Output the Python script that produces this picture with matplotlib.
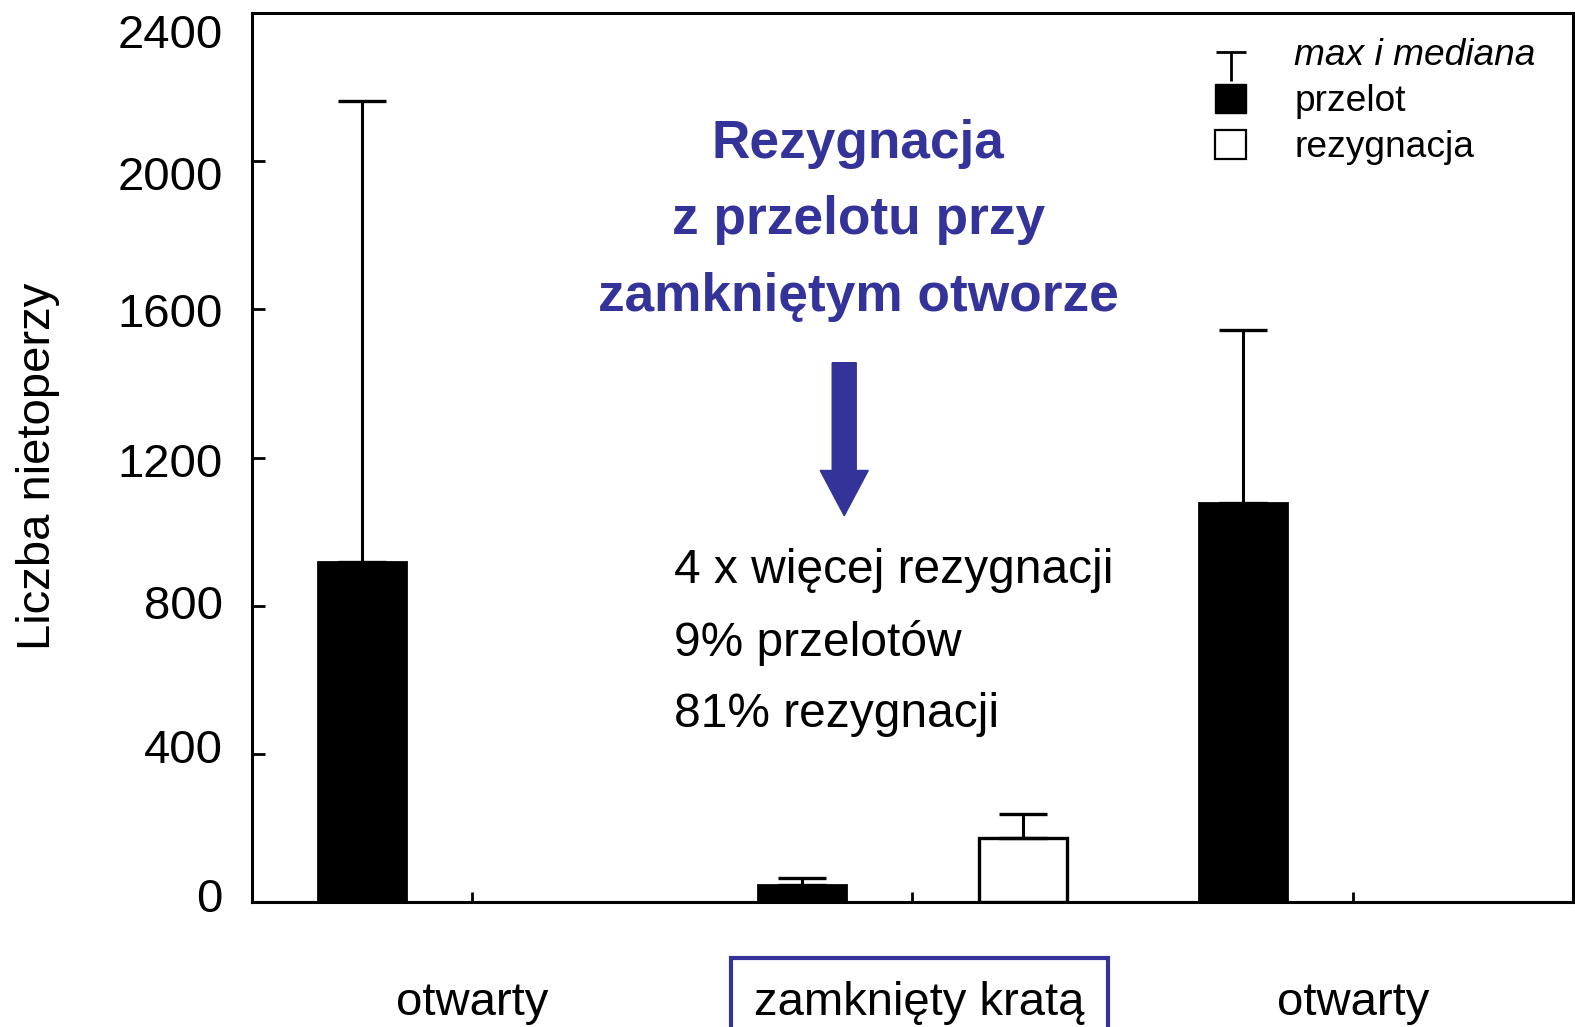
import matplotlib.pyplot as plt
import matplotlib.transforms as mtransforms
from matplotlib.patches import Patch
from matplotlib.lines import Line2D
from matplotlib.path import Path
import numpy as np

plt.rcParams['font.family'] = ['Liberation Sans', 'DejaVu Sans']

# dane (mediana i maksimum)
kategorie = ["otwarty", "zamknięty kratą", "otwarty"]
przelot_mediana = [919, 46, 1078]
przelot_max = [2162, 65, 1544]
rezygnacja_mediana = [0, 172, 0]
rezygnacja_max = [0, 237, 0]
y_ticks = [0, 400, 800, 1200, 1600, 2000, 2400]

niebieski = "#333399"

fig = plt.figure(figsize=(15.75, 10.27), dpi=100)
ax = fig.add_axes([0.16, 0.1217, 0.8387, 0.8656])

x = np.arange(len(kategorie))
szer = 0.2
off = 0.25

ax.bar(x - off, przelot_mediana, szer, color="black", edgecolor="black", linewidth=2)
rez = np.array(rezygnacja_mediana)
ax.bar(x[rez > 0] + off, rez[rez > 0], szer, color="white", edgecolor="black", linewidth=2.4)

# wąsy - tylko do maksimum
pm = np.array(przelot_mediana)
ax.errorbar(x - off, pm, yerr=[np.zeros_like(pm), np.array(przelot_max) - pm],
            fmt="none", ecolor="black", elinewidth=2.2, capsize=17, capthick=2.4)
rm = np.array(rezygnacja_max)
m = rez > 0
ax.errorbar(x[m] + off, rez[m], yerr=[np.zeros(m.sum()), rm[m] - rez[m]],
            fmt="none", ecolor="black", elinewidth=2.2, capsize=17, capthick=2.4)

ax.set_xlim(-0.5, 2.5)
ax.set_ylim(0, 2400)
ax.set_yticks(y_ticks)
ax.tick_params(axis="y", direction="in", length=9, width=2, labelsize=34, pad=21)
# etykiety osi y lekko przesunięte jak w oryginale
przes = [-7, -8, -4, 2, 1, 12, 18]
for lab, d in zip(ax.get_yticklabels(), przes):
    lab.set_transform(lab.get_transform() +
                      mtransforms.ScaledTranslation(0, -d / 100, fig.dpi_scale_trans))
ax.set_xticks(x)
ax.set_xticklabels(kategorie)
ax.tick_params(axis="x", direction="in", length=7, width=2, labelsize=34, pad=57)
srodek = ax.get_xticklabels()[1]
srodek.set_bbox(dict(boxstyle="square,pad=0.5", facecolor="white",
                     edgecolor=niebieski, linewidth=3))
srodek.set_transform(srodek.get_transform() +
                     mtransforms.ScaledTranslation(0.07, 0, fig.dpi_scale_trans))
for s in ax.spines.values():
    s.set_linewidth(2.2)

ax.set_ylabel("Liczba nietoperzy", fontsize=34)
ax.yaxis.set_label_coords(-0.145, 0.49)

# adnotacje
ax.text(0.877, 1840, "Rezygnacja\nz przelotu przy\nzamkniętym otworze", color=niebieski,
        fontsize=38.3, fontweight="bold", ha="center", va="center", linespacing=1.68)
ax.arrow(0.845, 1456, 0, -(1456 - 1043), width=0.0545, head_width=0.109,
         head_length=122, length_includes_head=True, color=niebieski)
ax.text(0.459, 701, "4 x więcej rezygnacji\n9% przelotów\n81% rezygnacji",
        fontsize=34.5, ha="left", va="center", linespacing=1.75)

# legenda
t_path = Path([(0, 0), (0, -1), (-0.5, 0), (0.5, 0)],
              [Path.MOVETO, Path.LINETO, Path.MOVETO, Path.LINETO])
uchwyty = [
    Line2D([], [], linestyle="none", marker=t_path, markersize=42,
           markeredgewidth=2, color="black"),
    Patch(facecolor="black", edgecolor="black"),
    Patch(facecolor="white", edgecolor="black", linewidth=1.6),
]
etykiety = ["max i mediana", "przelot", "rezygnacja"]
leg = ax.legend(uchwyty, etykiety, loc="upper left", bbox_to_anchor=(0.729, 0.972),
                frameon=False, fontsize=26.7, handlelength=0.84, handleheight=0.84,
                handletextpad=1.3, labelspacing=0.28, borderpad=0, borderaxespad=0,
                numpoints=1)
leg.get_texts()[0].set_style("italic")

fig.savefig("out.png", dpi=100)
